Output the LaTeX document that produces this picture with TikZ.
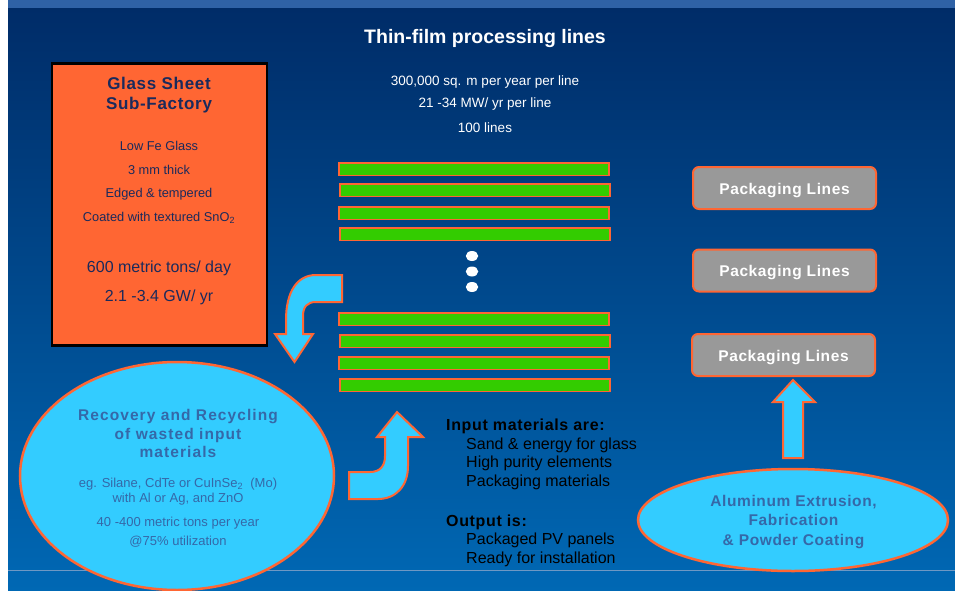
\documentclass[tikz,border=0pt]{standalone}
\usepackage{fontspec}
\setmainfont{Liberation Sans}
\newfontfamily\spacedfont[LetterSpace=4]{Liberation Sans}
\newfontfamily\widefont[LetterSpace=7]{Liberation Sans}
\usetikzlibrary{shapes.geometric}
\definecolor{orng}{HTML}{FF6633}
\definecolor{grn}{HTML}{33CC00}
\definecolor{sky}{HTML}{33CCFF}
\definecolor{navytext}{HTML}{1A2A5C}
\definecolor{steel}{HTML}{3568A8}
\definecolor{bgtop}{HTML}{002C68}
\definecolor{bgbot}{HTML}{0068B4}
\definecolor{strip}{HTML}{2F62A6}
\definecolor{pkg}{HTML}{999999}
\definecolor{rule}{HTML}{6E98C4}
\tikzset{
  txt/.style={inner sep=0pt, anchor=base},
  bar/.style={rectangle, draw=orng, fill=grn, line width=1.5pt, minimum width=270pt, minimum height=12.5pt, inner sep=0pt},
  dotnode/.style={ellipse, fill=white, minimum width=12.5pt, minimum height=10pt, inner sep=0pt},
  pkgbox/.style={rectangle, rounded corners=6pt, draw=orng, fill=pkg, line width=2pt, minimum width=183pt, minimum height=42pt, inner sep=0pt},
  pkgtxt/.style={txt, text=white, font=\spacedfont\bfseries\fontsize{15.5}{18}\selectfont},
  bluearrow/.style={fill=sky, draw=orng, line width=2pt, line join=miter},
  bubble/.style={ellipse, fill=sky, draw=orng, line width=2.5pt, inner sep=0pt},
  bubbletitle/.style={txt, text=steel, font=\spacedfont\bfseries\fontsize{15.5}{18}\selectfont},
  bubbletxt/.style={txt, text=steel, font=\fontsize{13}{15}\selectfont},
  glasstitle/.style={txt, text=navytext, font=\spacedfont\bfseries\fontsize{17}{20}\selectfont},
  glasssmall/.style={txt, text=navytext, font=\fontsize{12.8}{15}\selectfont},
  glassbig/.style={txt, text=navytext, font=\fontsize{16}{19}\selectfont},
  toptxt/.style={txt, text=white, font=\fontsize{13.5}{16}\selectfont},
  listhead/.style={txt, anchor=base west, text=black, font=\spacedfont\bfseries\fontsize{16}{19}\selectfont},
  listitem/.style={txt, anchor=base west, text=black, font=\fontsize{16}{19}\selectfont}
}
\begin{document}
\begin{tikzpicture}[x=1pt,y=-1pt]
\useasboundingbox (0,0) rectangle (955,591);
% background
\fill[white] (0,0) rectangle (955,591);
\shade[top color=bgtop, bottom color=bgbot] (8,8) rectangle (955,591);
\fill[strip] (8,0) rectangle (955,8);
\draw[rule, line width=0.8pt] (8,570) -- (955,570);

% title and line data
\node[txt, text=white, font=\bfseries\fontsize{19.5}{22}\selectfont] (title) at (485,43.5) {Thin-film processing lines};
\node[toptxt] (l1) at (485,85.7) {300,000 sq. m per year per line};
\node[toptxt] (l2) at (485,107.7) {21 -34 MW/ yr per line};
\node[toptxt] (l3) at (485,132.3) {100 lines};

% glass sheet sub-factory
\node[rectangle, draw=black, fill=orng, line width=2.5pt, minimum width=215pt, minimum height=282pt, inner sep=0pt] (glass) at (159.5,204.5) {};
\node[glasstitle] (g1) at (159,90) {Glass Sheet};
\node[glasstitle] (g2) at (159,110) {Sub-Factory};
\node[glasssmall] (g3) at (159,150) {Low Fe Glass};
\node[glasssmall] (g4) at (159,174) {3 mm thick};
\node[glasssmall] (g5) at (159,197.7) {Edged \& tempered};
\node[glasssmall] (g6) at (159,221.7) {Coated with textured SnO\textsubscript{2}};
\node[glassbig] (g7) at (159,272.7) {600 metric tons/ day};
\node[glassbig] (g8) at (159,301.7) {2.1 -3.4 GW/ yr};

% processing line bars
\foreach \yy/\xx [count=\i] in {169/474,190/475,213/474,234/475,319/474,341/475,363/474,385/475}
  \node[bar] (bar\i) at (\xx,\yy) {};
\node[dotnode] (dot1) at (472,256) {};
\node[dotnode] (dot2) at (472,271.5) {};
\node[dotnode] (dot3) at (472,287) {};

% packaging lines
\node[pkgbox] (p1) at (784.5,188) {};
\node[pkgtxt] (p1t) at (784.5,194) {Packaging Lines};
\node[pkgbox] (p2) at (784.5,270.5) {};
\node[pkgtxt] (p2t) at (784.5,276) {Packaging Lines};
\node[pkgbox] (p3) at (783.5,355) {};
\node[pkgtxt] (p3t) at (783.5,361) {Packaging Lines};

% arrows
\draw[bluearrow] (342,275) -- (316,275) .. controls (297,275) and (286,292) .. (286,320) -- (286,334) -- (275,334) -- (294.5,362) -- (313,334) -- (303,334) -- (303,316) .. controls (303,307) and (307,302) .. (316,302) -- (342,302) -- cycle;
\draw[bluearrow] (349,472) -- (370,472) .. controls (380,472) and (385,466) .. (385,456) -- (385,437) -- (377,437) -- (397,412) -- (423,437) -- (408,437) -- (408,466) .. controls (408,486) and (396,499) .. (378,499) -- (349,499) -- cycle;
\draw[bluearrow] (783,458) -- (783,402) -- (773,402) -- (793,380) -- (815,402) -- (803,402) -- (803,458) -- cycle;

% recovery ellipse
\node[bubble, minimum width=314pt, minimum height=228pt] (rec) at (177,476) {};
\node[bubbletitle, font=\widefont\bfseries\fontsize{15.5}{18}\selectfont] (r1) at (178,420) {Recovery and Recycling};
\node[bubbletitle, font=\widefont\bfseries\fontsize{15.5}{18}\selectfont] (r2) at (178,439) {of wasted input};
\node[bubbletitle, font=\widefont\bfseries\fontsize{15.5}{18}\selectfont] (r3) at (178,457.7) {materials};
\node[bubbletxt] (r4) at (178,487.7) {eg. Silane, CdTe or CuInSe\textsubscript{2}\ \ (Mo)};
\node[bubbletxt] (r5) at (178,502.7) {with Al or Ag, and ZnO};
\node[bubbletxt] (r6) at (178,526.7) {40 -400 metric tons per year};
\node[bubbletxt] (r7) at (178,545.7) {@75\% utilization};

% aluminum ellipse
\node[bubble, minimum width=310pt, minimum height=102pt] (alu) at (793,520) {};
\node[bubbletitle] (a1) at (793.5,506.7) {Aluminum Extrusion,};
\node[bubbletitle] (a2) at (793.5,525.7) {Fabrication};
\node[bubbletitle] (a3) at (793.5,545) {\& Powder Coating};

% input / output list
\node[listhead] (in0) at (446,430) {Input materials are:};
\node[listitem] (in1) at (466,449) {Sand \& energy for glass};
\node[listitem] (in2) at (466,467.7) {High purity elements};
\node[listitem] (in3) at (466,486.7) {Packaging materials};
\node[listhead] (out0) at (446,526) {Output is:};
\node[listitem] (out1) at (466,544) {Packaged PV panels};
\node[listitem] (out2) at (466,563.3) {Ready for installation};
\end{tikzpicture}
\end{document}
